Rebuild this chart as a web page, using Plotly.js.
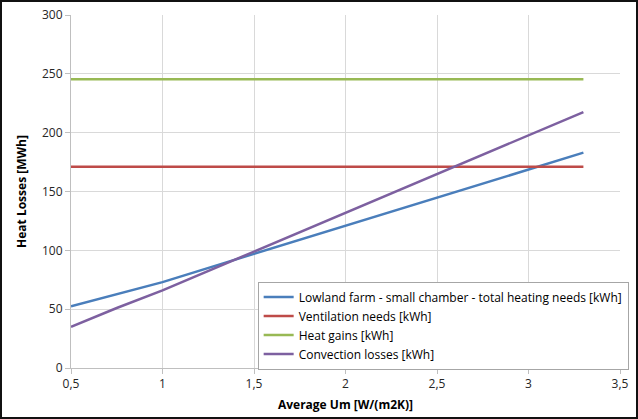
<!DOCTYPE html>
<html><head><meta charset="utf-8">
<script src="https://cdn.plot.ly/plotly-3.0.1.min.js"></script>
<style>
html,body{margin:0;padding:0;background:#fff;}
#wrap{width:638px;height:419px;box-sizing:border-box;border:2px solid #111;}
#chart{width:634px;height:415px;}
</style></head>
<body><div id="wrap"><div id="chart"></div></div>
<script>
const xValues = [0.5, 0.75, 1, 1.5, 2, 2.5, 3, 3.3];
const totalHeating = [52.5, 63, 73, 97, 121, 145, 169, 183];
const ventilation = [171, 171, 171, 171, 171, 171, 171, 171];
const heatGains = [245.5, 245.5, 245.5, 245.5, 245.5, 245.5, 245.5, 245.5];
const convection = [35, 51, 66, 99, 132, 165, 198, 217.5];
const seriesNames = [
  "Lowland farm - small chamber - total heating needs [kWh]",
  "Ventilation needs [kWh]",
  "Heat gains [kWh]",
  "Convection losses [kWh]"
];
const xTickVals = [0.5, 1, 1.5, 2, 2.5, 3, 3.5];
const xTickText = ["0,5", "1", "1,5", "2", "2,5", "3", "3,5"];
const yTickVals = [0, 50, 100, 150, 200, 250, 300];

const colors = ["#4a7ebb", "#be4b48", "#98b954", "#7d60a0"];
const ys = [totalHeating, ventilation, heatGains, convection];
const traces = ys.map((y, i) => ({
  x: xValues, y: y, type: "scatter", mode: "lines", name: seriesNames[i],
  line: {color: colors[i], width: 2.5}
}));

const fam = "Open Sans, Liberation Sans, sans-serif";
const layout = {
  width: 634, height: 415,
  margin: {l: 69, r: 16, t: 13, b: 49, autoexpand: false},
  paper_bgcolor: "#fff", plot_bgcolor: "#fff",
  font: {family: fam, size: 12, color: "#262626"},
  showlegend: true,
  xaxis: {
    range: [0.5, 3.5], tickvals: xTickVals, ticktext: xTickText,
    automargin: false,
    showgrid: true, gridcolor: "#d9d9d9", gridwidth: 1,
    showline: true, linecolor: "#bfbfbf", linewidth: 1,
    ticks: "outside", ticklen: 5, tickcolor: "#bfbfbf",
    zeroline: false,
    title: {text: "<b>Average Um [W/(m2K)]</b>", font: {size: 12, color: "#000"}, standoff: 9}
  },
  yaxis: {
    range: [0, 300], tickvals: yTickVals,
    automargin: false,
    showgrid: true, gridcolor: "#d9d9d9", gridwidth: 1,
    showline: true, linecolor: "#bfbfbf", linewidth: 1,
    ticks: "outside", ticklen: 5, tickcolor: "#bfbfbf",
    zeroline: false,
    title: {text: "<b>Heat Losses [MWh]</b>", font: {size: 12, color: "#000"}, standoff: 12}
  },
  legend: {
    x: 0.34, y: 0.245, xanchor: "left", yanchor: "top",
    bgcolor: "#fff", bordercolor: "#a6a6a6", borderwidth: 1,
    font: {family: fam, size: 12, color: "#000"},
    tracegroupgap: 0, itemwidth: 30
  }
};
Plotly.newPlot("chart", traces, layout, {displayModeBar: false, staticPlot: true});
</script></body></html>
